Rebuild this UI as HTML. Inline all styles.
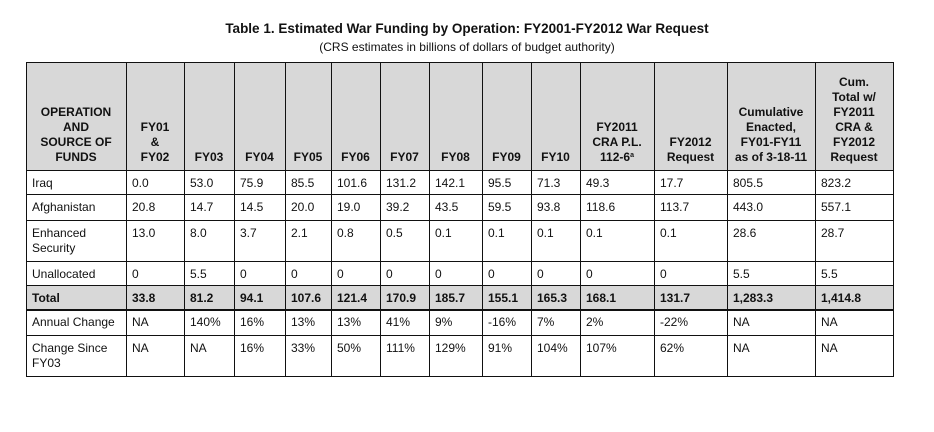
<!DOCTYPE html>
<html><head><meta charset="utf-8"><style>
body{margin:0;width:934px;height:432px;background:#fff;position:relative;overflow:hidden;font-family:"Liberation Sans",sans-serif;color:#111}
.t{position:absolute;left:0;width:934px;text-align:center}
.c{position:absolute;box-sizing:border-box;font-size:12px;padding:6px 0 0 6px;line-height:15px;white-space:nowrap}
.h{background:#d8d8d8;font-weight:bold;font-size:12px;text-align:center;padding:0 2px 5px 2px;display:flex;align-items:flex-end;justify-content:center;line-height:15px;white-space:normal}
.tot{background:#d8d8d8;font-weight:bold}
.ln{position:absolute;background:#111;z-index:100}
sup{font-size:7px;line-height:0;vertical-align:4px}
</style></head><body>
<div class="t" style="top:21px;font-size:13.5px;font-weight:bold">Table 1. Estimated War Funding by Operation: FY2001-FY2012 War Request</div>
<div class="t" style="top:40px;font-size:12px">(CRS estimates in billions of dollars of budget authority)</div>
<script>
const colEdges=[26,126,184,234,285,331,380,429,482,531,580,654,727,815,893];
const rowEdges=[62,170,194,220,261,285,309,335,376];
const headers=["OPERATION<br>AND<br>SOURCE OF<br>FUNDS","FY01<br>&amp;<br>FY02","FY03","FY04","FY05","FY06","FY07","FY08","FY09","FY10","FY2011<br>CRA P.L.<br>112-6<sup>a</sup>","FY2012<br>Request","Cumulative<br>Enacted,<br>FY01-FY11<br>as of 3-18-11","Cum.<br>Total w/<br>FY2011<br>CRA &amp;<br>FY2012<br>Request"];
const rowLabels=["Iraq","Afghanistan","Enhanced<br>Security","Unallocated","Total","Annual Change","Change Since<br>FY03"];
const iraq=["0.0","53.0","75.9","85.5","101.6","131.2","142.1","95.5","71.3","49.3","17.7","805.5","823.2"];
const afghanistan=["20.8","14.7","14.5","20.0","19.0","39.2","43.5","59.5","93.8","118.6","113.7","443.0","557.1"];
const enhanced=["13.0","8.0","3.7","2.1","0.8","0.5","0.1","0.1","0.1","0.1","0.1","28.6","28.7"];
const unallocated=["0","5.5","0","0","0","0","0","0","0","0","0","5.5","5.5"];
const total=["33.8","81.2","94.1","107.6","121.4","170.9","185.7","155.1","165.3","168.1","131.7","1,283.3","1,414.8"];
const annualChange=["NA","140%","16%","13%","13%","41%","9%","-16%","7%","2%","-22%","NA","NA"];
const changeSince=["NA","NA","16%","33%","50%","111%","129%","91%","104%","107%","62%","NA","NA"];
const rows=[iraq,afghanistan,enhanced,unallocated,total,annualChange,changeSince];
const names=["iraq","afghanistan","enhanced-security","unallocated","total","annual-change","change-since-fy03"];
function cell(x0,x1,y0,y1,html,cls){
  const d=document.createElement('div');
  d.className='c '+cls;
  d.style.left=x0+'px';d.style.top=y0+'px';
  d.style.width=(x1-x0)+'px';d.style.height=(y1-y0)+'px';
  d.innerHTML=html;
  document.body.appendChild(d);
  return d;
}
for(let i=0;i<headers.length;i++){
  const d=cell(colEdges[i],colEdges[i+1],rowEdges[0],rowEdges[1],'<div>'+headers[i]+'</div>','h');
  
  
}
for(let r=0;r<rows.length;r++){
  const cls=r===4?'tot':'';
  const y0=rowEdges[r+1],y1=rowEdges[r+2];
  const l=cell(colEdges[0],colEdges[1],y0,y1,rowLabels[r],cls);
  
  
  for(let c=0;c<rows[r].length;c++){
    const d=cell(colEdges[c+1],colEdges[c+2],y0,y1,rows[r][c],cls);
    
    
  }
}
const top0=rowEdges[0],bot=rowEdges[rowEdges.length-1],lft=colEdges[0],rgt=colEdges[colEdges.length-1];
for(const x of colEdges){
  const v=document.createElement('div');
  v.className='ln';
  v.style.left=x+'px';v.style.top=top0+'px';v.style.width='1px';v.style.height=(bot-top0+1)+'px';
  
  
  document.body.appendChild(v);
}
rowEdges.forEach((y,i)=>{
  const h=document.createElement('div');
  h.className='ln';
  const th=(i===6)?2:1;
  h.style.left=lft+'px';h.style.top=y+'px';h.style.width=(rgt-lft+1)+'px';h.style.height=th+'px';
  
  
  document.body.appendChild(h);
});
</script>
</body></html>
